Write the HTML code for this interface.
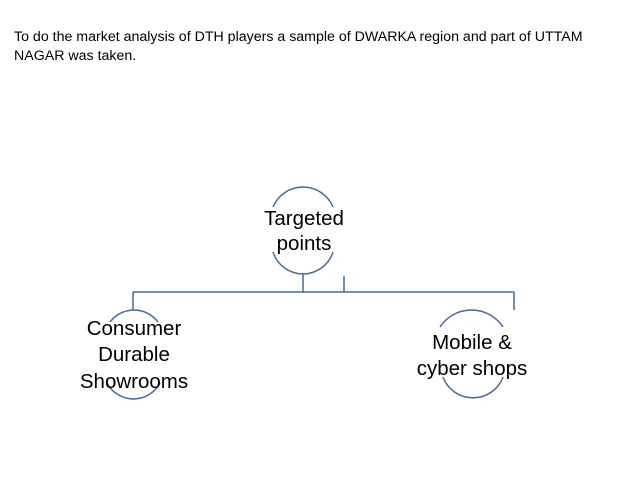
<!DOCTYPE html>
<html><head><style>
html,body{margin:0;padding:0;background:#fff;}
body{width:638px;height:479px;position:relative;overflow:hidden;font-family:"Liberation Sans",sans-serif;}
.t{position:absolute;left:14px;top:28px;font-size:14.2px;line-height:19px;color:#000;width:630px;white-space:nowrap;}
svg{position:absolute;left:0;top:0;}
text{font-family:"Liberation Sans",sans-serif;font-size:20.5px;fill:#000;text-anchor:middle;}
</style></head><body>
<div class="t">To do the market analysis of DTH players a sample of DWARKA region and part of UTTAM<br>NAGAR was taken.</div>
<svg width="638" height="479" viewBox="0 0 638 479">
<g fill="none" stroke="#4a6a94" stroke-width="1.5">
<path d="M273 207 A32.5 32.5 0 0 1 333 207"/>
<path d="M273 252 A31.5 31.5 0 0 0 333 252"/>
<path d="M303 274 V292 M133 292 H514 M344 276 V292 M133 292 V310 M514 292 V310"/>
<path d="M110 322 A30 30 0 0 1 158 322"/>
<path d="M107 383 A30 30 0 0 0 160 383"/>
<path d="M440 327 A37.7 37.7 0 0 1 503 327"/>
<path d="M443 377 A32 32 0 0 0 503 377"/>
</g>
<text x="304" y="225">Targeted</text>
<text x="304" y="250">points</text>
<text x="134" y="335">Consumer</text>
<text x="134" y="361">Durable</text>
<text x="134" y="388">Showrooms</text>
<text x="472" y="349">Mobile &amp;</text>
<text x="472" y="375">cyber shops</text>
</svg>
</body></html>
